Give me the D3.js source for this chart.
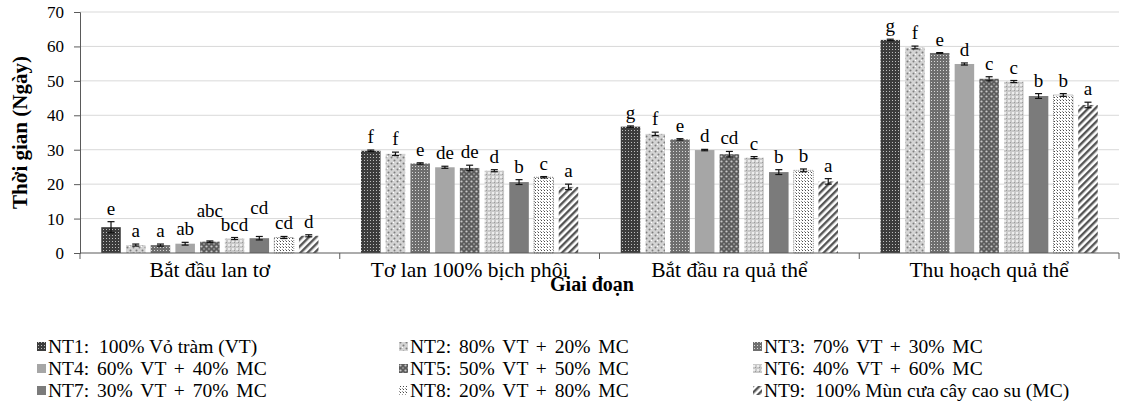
<!DOCTYPE html>
<html>
<head>
<meta charset="utf-8">
<script src="https://d3js.org/d3.v7.min.js"></script>
<style>
  body { margin: 0; background: #fff; }
  text { font-family: "Liberation Serif", "Times New Roman", serif; fill: #000; }
</style>
</head>
<body>
<svg id="chart" width="1122" height="409"></svg>
<script>

var stages = ["Bắt đầu lan tơ", "Tơ lan 100% bịch phôi", "Bắt đầu ra quả thể", "Thu hoạch quả thể"];
var treatments = ["NT1", "NT2", "NT3", "NT4", "NT5", "NT6", "NT7", "NT8", "NT9"];
var legendLabels = [
  "NT1:  100% Vỏ tràm (VT)", "NT2: 80% VT + 20% MC", "NT3: 70% VT + 30% MC",
  "NT4: 60% VT + 40% MC", "NT5: 50% VT + 50% MC", "NT6: 40% VT + 60% MC",
  "NT7: 30% VT + 70% MC", "NT8: 20% VT + 80% MC", "NT9:  100% Mùn cưa cây cao su (MC)"
];
var yTicks = [0, 10, 20, 30, 40, 50, 60, 70];

// mean days, one array per treatment (4 stages)
var nt1 = [7.5, 29.7, 36.7, 61.9];
var nt2 = [2.3, 28.8, 34.6, 59.7];
var nt3 = [2.3, 26.0, 33.0, 58.1];
var nt4 = [2.7, 24.9, 29.9, 54.9];
var nt5 = [3.3, 24.7, 28.7, 50.6];
var nt6 = [4.2, 23.9, 27.7, 49.8];
var nt7 = [4.3, 20.6, 23.5, 45.6];
var nt8 = [4.5, 22.0, 24.0, 45.9];
var nt9 = [5.0, 19.2, 20.8, 43.0];

// standard errors
var err1 = [1.6, 0.2, 0.2, 0.2];
var err2 = [0.3, 0.5, 0.5, 0.4];
var err3 = [0.3, 0.2, 0.2, 0.1];
var err4 = [0.4, 0.3, 0.2, 0.3];
var err5 = [0.2, 0.8, 0.8, 0.6];
var err6 = [0.3, 0.3, 0.3, 0.3];
var err7 = [0.5, 0.7, 0.7, 0.7];
var err8 = [0.3, 0.2, 0.4, 0.4];
var err9 = [0.3, 0.8, 0.8, 0.8];

// significance letters
var sig1 = ["e", "f", "g", "g"];
var sig2 = ["a", "f", "f", "f"];
var sig3 = ["a", "e", "e", "e"];
var sig4 = ["ab", "de", "d", "d"];
var sig5 = ["abc", "de", "cd", "c"];
var sig6 = ["bcd", "d", "c", "c"];
var sig7 = ["cd", "b", "b", "b"];
var sig8 = ["cd", "c", "b", "b"];
var sig9 = ["d", "a", "a", "a"];

var means = [nt1, nt2, nt3, nt4, nt5, nt6, nt7, nt8, nt9];
var errs = [err1, err2, err3, err4, err5, err6, err7, err8, err9];
var sigs = [sig1, sig2, sig3, sig4, sig5, sig6, sig7, sig8, sig9];

var rows = [];
treatments.forEach(function(t, i) {
  stages.forEach(function(s, j) {
    rows.push({ stage: s, si: j, trt: t, idx: i, v: means[i][j], e: errs[i][j], sig: sigs[i][j] });
  });
});

var svg = d3.select("#chart");
var mLeft = 80, mRight = 1119, mTop = 12, mBottom = 253;

var x0 = d3.scaleBand().domain(stages).range([mLeft, mRight]).padding(0);
var x1 = d3.scaleBand().domain(treatments).range([0, x0.bandwidth()])
  .paddingInner(0.21).paddingOuter(0.86);
var y = d3.scaleLinear().domain([0, 70]).range([mBottom, mTop]);

// patterns
var defs = svg.append("defs");
function pat(id, w, h, bg) {
  var p = defs.append("pattern").attr("id", id).attr("patternUnits", "userSpaceOnUse")
    .attr("width", w).attr("height", h);
  p.append("rect").attr("width", w).attr("height", h).attr("fill", bg);
  return p;
}
var p;
p = pat("p1", 3, 3, "#3c3c3c");
p.append("rect").attr("x", 1).attr("y", 1).attr("width", 1).attr("height", 1).attr("fill", "#bdbdbd");
p = pat("p2", 6, 6, "#d4d4d4");
p.append("circle").attr("cx", 1.5).attr("cy", 1.5).attr("r", 1).attr("fill", "#7d7d7d");
p.append("circle").attr("cx", 4.5).attr("cy", 4.5).attr("r", 1).attr("fill", "#7d7d7d");
p.append("rect").attr("x", 3).attr("y", 0).attr("width", 1).attr("height", 1).attr("fill", "#fff");
p = pat("p3", 3, 3, "#6e6e6e");
p.append("rect").attr("x", 1).attr("y", 1).attr("width", 1).attr("height", 1).attr("fill", "#d8d8d8");
p = pat("p5", 5, 5, "#5c5c5c");
p.append("circle").attr("cx", 1.5).attr("cy", 1.5).attr("r", 1.1).attr("fill", "#c8c8c8");
p.append("circle").attr("cx", 4).attr("cy", 4).attr("r", 0.9).attr("fill", "#9a9a9a");
p = pat("p6", 4, 4, "#c9c9c9");
p.append("rect").attr("x", 0).attr("y", 0).attr("width", 2).attr("height", 2).attr("fill", "#ededed");
p.append("rect").attr("x", 2).attr("y", 2).attr("width", 1).attr("height", 1).attr("fill", "#9a9a9a");
p = pat("p8", 3, 3, "#ffffff");
p.append("rect").attr("x", 1).attr("y", 1).attr("width", 1).attr("height", 1).attr("fill", "#4a4a4a");
p.append("rect").attr("x", 0).attr("y", 0).attr("width", 1).attr("height", 1).attr("fill", "#9a9a9a");
p = pat("p9", 5, 5, "#ffffff").attr("patternTransform", "rotate(45)");
p.append("rect").attr("x", 0).attr("y", 0).attr("width", 2.4).attr("height", 5).attr("fill", "#555");

var fills = ["url(#p1)", "url(#p2)", "url(#p3)", "#a6a6a6", "url(#p5)", "url(#p6)", "#7b7b7b", "url(#p8)", "url(#p9)"];

// gridlines
svg.append("g").selectAll("line").data(yTicks.slice(1)).enter().append("line")
  .attr("x1", mLeft).attr("x2", mRight)
  .attr("y1", function(d) { return y(d); }).attr("y2", function(d) { return y(d); })
  .attr("stroke", "#d9d9d9").attr("stroke-width", 1);

// y axis
var yAxis = svg.append("g").attr("transform", "translate(" + mLeft + ",0)")
  .call(d3.axisLeft(y).tickValues(yTicks).tickSize(6).tickPadding(10));
yAxis.select(".domain").attr("stroke", "#5a5a5a");
yAxis.selectAll(".tick line").attr("stroke", "#5a5a5a");
yAxis.selectAll("text").style("font-size", "17px").attr("font-family", "Liberation Serif").attr("fill", "#000");

// bars
var bars = svg.append("g");
bars.selectAll("rect").data(rows).enter().append("rect")
  .attr("x", function(d) { return x0(d.stage) + x1(d.trt); })
  .attr("y", function(d) { return y(d.v); })
  .attr("width", x1.bandwidth())
  .attr("height", function(d) { return y(0) - y(d.v); })
  .attr("fill", function(d) { return fills[d.idx]; })
  .attr("stroke", function(d) { return d.idx === 7 ? "#777" : "none"; })
  .attr("stroke-dasharray", "1,1")
  .attr("stroke-width", 0.8);

// error bars
var eb = svg.append("g").attr("stroke", "#111").attr("stroke-width", 1.2);
rows.forEach(function(d) {
  var cx = x0(d.stage) + x1(d.trt) + x1.bandwidth() / 2;
  eb.append("line").attr("x1", cx).attr("x2", cx).attr("y1", y(d.v - d.e)).attr("y2", y(d.v + d.e));
  eb.append("line").attr("x1", cx - 3.5).attr("x2", cx + 3.5).attr("y1", y(d.v + d.e)).attr("y2", y(d.v + d.e));
  eb.append("line").attr("x1", cx - 3.5).attr("x2", cx + 3.5).attr("y1", y(d.v - d.e)).attr("y2", y(d.v - d.e));
});

// x axis
svg.append("line").attr("x1", mLeft).attr("x2", mRight).attr("y1", y(0)).attr("y2", y(0))
  .attr("stroke", "#5a5a5a").attr("stroke-width", 1.2);
var bounds = stages.map(function(s) { return x0(s); }).concat([mRight]);
svg.append("g").selectAll("line").data(bounds).enter().append("line")
  .attr("x1", function(d) { return d; }).attr("x2", function(d) { return d; })
  .attr("y1", y(0)).attr("y2", y(0) + 6).attr("stroke", "#5a5a5a");

svg.append("g").selectAll("text").data(stages).enter().append("text")
  .attr("x", function(d) { return x0(d) + x0.bandwidth() / 2; })
  .attr("y", 277).attr("text-anchor", "middle").style("font-size", "21.5px")
  .text(function(d) { return d; });

// significance letters (two in the first stage sit higher, as in the original)
var lifted = { "0-4": 17, "0-6": 15 };
svg.append("g").selectAll("text").data(rows).enter().append("text")
  .attr("x", function(d) { return x0(d.stage) + x1(d.trt) + x1.bandwidth() / 2; })
  .attr("y", function(d) { return y(d.v + d.e) - 7 - (lifted[d.si + "-" + d.idx] || 0); })
  .attr("text-anchor", "middle").style("font-size", "19px")
  .text(function(d) { return d.sig; });

// axis titles
svg.append("text").attr("transform", "translate(27," + ((mTop + mBottom) / 2) + ") rotate(-90)")
  .attr("text-anchor", "middle").style("font-size", "21px").style("font-weight", "bold")
  .text("Thời gian (Ngày)");
svg.append("text").attr("x", 592).attr("y", 291).attr("text-anchor", "middle")
  .style("font-size", "20px").style("font-weight", "bold").text("Giai đoạn");

// legend
var colX = [37, 399, 753], rowY = [347, 369, 391];
var lg = svg.append("g").selectAll("g").data(treatments).enter().append("g")
  .attr("transform", function(d, i) { return "translate(" + colX[i % 3] + "," + rowY[Math.floor(i / 3)] + ")"; });
lg.append("rect").attr("x", 0).attr("y", -5).attr("width", 9).attr("height", 9)
  .attr("fill", function(d, i) { return fills[i]; });
lg.append("text").attr("x", 11).attr("y", 6).style("font-size", "19.5px").style("white-space", "pre")
  .style("word-spacing", function(d, i) { return legendLabels[i].indexOf("+") >= 0 ? "3px" : "0px"; })
  .text(function(d, i) { return legendLabels[i]; });

</script>
</body>
</html>
